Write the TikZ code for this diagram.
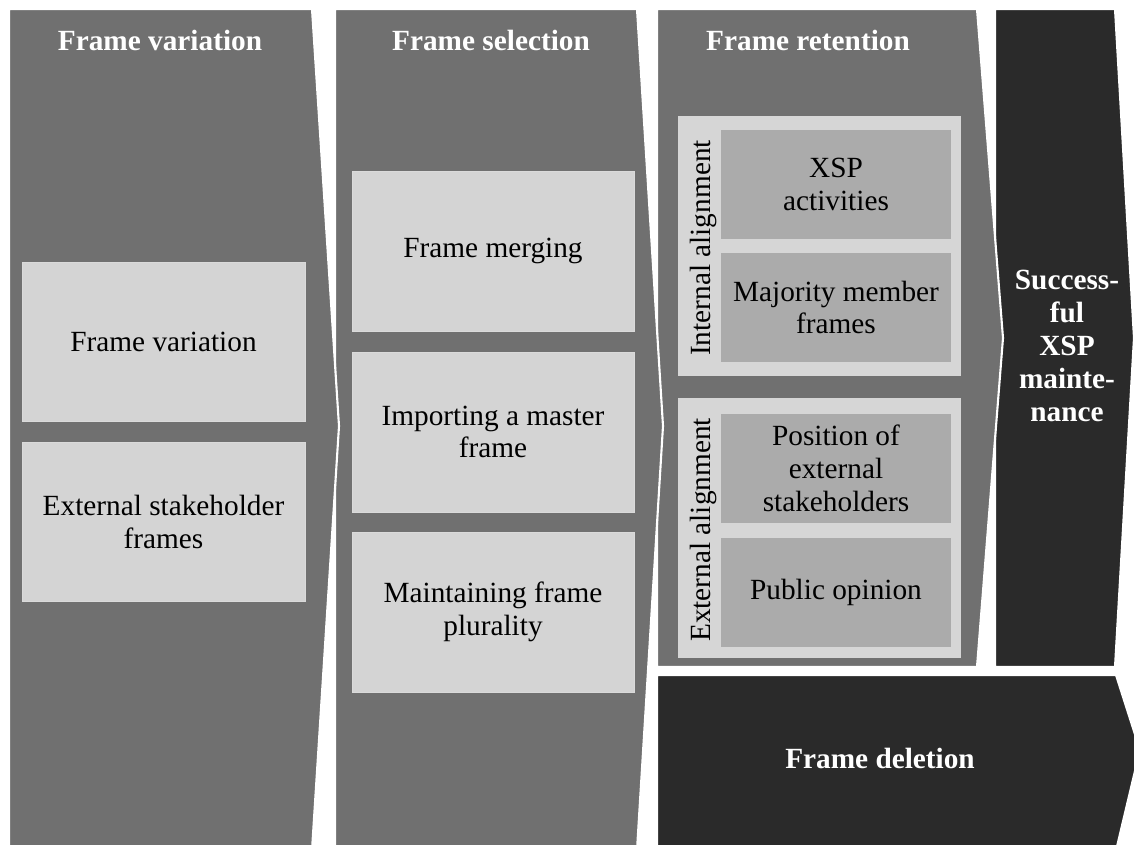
\documentclass[tikz,border=0pt]{standalone}
\usepackage{fontspec}
\setmainfont{Liberation Serif}
\definecolor{colgray}{HTML}{707070}
\definecolor{lightbox}{HTML}{D4D4D4}
\definecolor{framebox}{HTML}{D6D6D6}
\definecolor{midbox}{HTML}{ABABAB}
\definecolor{darkcol}{HTML}{2A2A2A}
\begin{document}
\begin{tikzpicture}[x=0.03cm,y=-0.03cm,
  colshape/.style={fill=colgray, draw=white, line width=1.8pt, line join=miter},
  darkshape/.style={fill=darkcol, draw=white, line width=1.8pt, line join=miter},
  txt/.style={font=\fontsize{25}{28}\selectfont, align=center, text=black, inner sep=0pt},
  title/.style={font=\fontsize{25}{28}\selectfont\bfseries, align=center, text=white, inner sep=0pt},
  lbox/.style={fill=lightbox, draw=lightbox!85!white, line width=0.6pt, txt},
  fbox/.style={fill=framebox, draw=none, inner sep=0pt},
  mbox/.style={fill=midbox, draw=none, txt},
  vlabel/.style={txt, rotate=90}]
\useasboundingbox (0,0) rectangle (1134,845);
\clip (0,0) rectangle (1134,845);
\fill[white] (0,0) rectangle (1134,845);

% columns (drawn right to left so earlier arrows overlap later ones)
\path[darkshape] (657,675) -- (1116,675) -- (1140,750) -- (1115,855) -- (657,855) -- cycle;
\path[darkshape] (995,9) -- (1115,9) -- (1134,338) -- (1115,667) -- (995,667) -- cycle;
\path[colshape] (657,9) -- (977,9) -- (1003,338) -- (977,667) -- (657,667) -- cycle;
\path[colshape] (335,9) -- (637,9) -- (663,426) -- (637,850) -- (335,850) -- cycle;
\path[colshape] (9,9) -- (312,9) -- (339,426) -- (312,850) -- (9,850) -- cycle;

% titles
\node[title] (t1) at (160,40) {Frame variation};
\node[title] (t2) at (491,40) {Frame selection};
\node[title] (t3) at (808,40) {Frame retention};
\node[title] (t4) at (1067,346) {Success-\\ful\\XSP\\mainte-\\nance};
\node[title] (t5) at (880,758) {Frame deletion};

% column 1
\node[lbox, minimum width=8.49cm, minimum height=4.77cm] (fv) at (163.5,341.5) {Frame variation};
\node[lbox, minimum width=8.49cm, minimum height=4.77cm] (esf) at (163.5,522) {External stakeholder\\frames};

% column 2
\node[lbox, minimum width=8.46cm, minimum height=4.8cm] (fm) at (493,251) {Frame merging};
\node[lbox, minimum width=8.46cm, minimum height=4.8cm] (imf) at (493,432) {Importing a master\\frame};
\node[lbox, minimum width=8.46cm, minimum height=4.8cm] (mfp) at (493,612) {Maintaining frame\\plurality};

% column 3
\node[fbox, minimum width=8.49cm, minimum height=7.8cm] (ia) at (819.5,246) {};
\node[fbox, minimum width=8.49cm, minimum height=7.8cm] (ea) at (819.5,528) {};
\node[vlabel] (ial) at (703,248) {Internal alignment};
\node[vlabel] (eal) at (703,530) {External alignment};
\node[mbox, minimum width=6.9cm, minimum height=3.27cm] (xsp) at (836,184.5) {XSP\\activities};
\node[mbox, minimum width=6.9cm, minimum height=3.27cm] (mmf) at (836,307.5) {Majority member\\frames};
\node[mbox, minimum width=6.9cm, minimum height=3.27cm] (pes) at (836,468.5) {Position of\\external\\stakeholders};
\node[mbox, minimum width=6.9cm, minimum height=3.27cm] (po) at (836,592.5) {Public opinion};
\end{tikzpicture}
\end{document}
